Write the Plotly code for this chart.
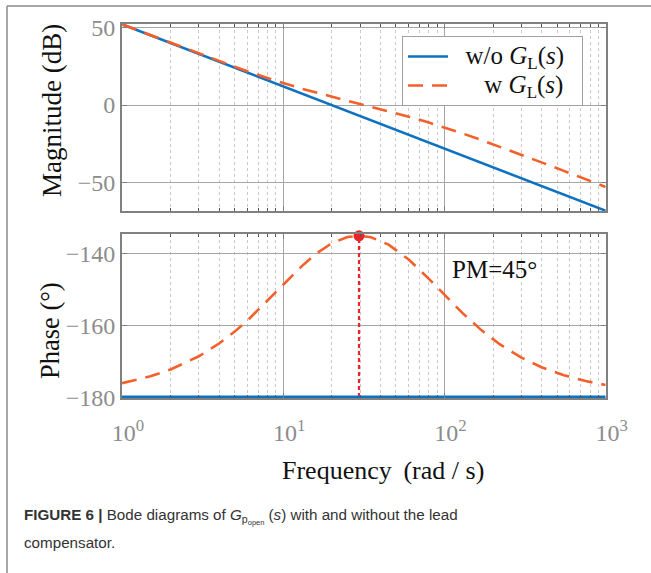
import plotly.graph_objects as go

# ---------------- data ----------------
freq_wo = [1, 1000]
mag_wo = [52.0, -68.0]
phase_wo = [-180.0, -180.0]

freq = [1, 1.5, 2, 3, 4, 5, 6, 8, 10, 13, 16, 20, 25, 29.5, 35, 45, 60, 80,
        100, 130, 170, 220, 300, 400, 550, 750, 1000]
mag_w = [52.03, 45.02, 40.07, 33.17, 28.35, 24.69, 21.78, 17.38, 14.15, 10.60,
         7.97, 5.30, 2.74, 0.88, -1.05, -3.94, -7.45, -11.23, -14.39, -18.34,
         -22.58, -26.80, -31.99, -36.89, -42.36, -47.72, -52.70]
phase_w = [-176.12, -174.20, -172.30, -168.60, -165.06, -161.73, -158.63,
           -153.16, -148.65, -143.53, -139.99, -137.07, -135.36, -134.97,
           -135.40, -137.46, -141.61, -147.00, -151.51, -156.65, -161.38,
           -165.24, -168.98, -171.66, -173.89, -175.51, -176.63]

pm_freq = [29.5]
pm_phase = [-135.0]
pm_line_freq = [29.5, 29.5]
pm_line_phase = [-180.0, -135.0]

x_tickvals = [1, 10, 100, 1000]
x_ticktext = ["10<sup>0</sup>", "10<sup>1</sup>", "10<sup>2</sup>", "10<sup>3</sup>"]
mag_ticks = [-50, 0, 50]
phase_ticks = [-180, -160, -140]

# ---------------- styling ----------------
W, H = 651, 573
BLUE = "#0E72C0"
ORANGE = "#F4602A"
RED = "#E8262A"
FRAME = "#808080"
GRID = "#A6A6A6"
MINOR = "#C8C8C8"
TICKC = "#8C8C8C"
SERIF = "Liberation Serif, Times New Roman, serif"
SANS = "Liberation Sans, Arial, sans-serif"

def px(x):
    return x / W

def py(y):
    return 1 - y / H

minor_vals = [m * 10 ** d for d in range(3) for m in range(2, 10)]
SUB_L = "<span style='font-size:17px;baseline-shift:-5px'>L</span>"

def big(s):
    return "<span style='font-size:25px'>" + s + "</span>"

fig = go.Figure()

fig.add_trace(go.Scatter(x=freq_wo, y=mag_wo, mode="lines",
                         line=dict(color=BLUE, width=2.6),
                         name=big("\u2002w/o <i>G</i>") + SUB_L + big("(<i>s</i>)\u2002"),
                         xaxis="x", yaxis="y"))
fig.add_trace(go.Scatter(x=freq, y=mag_w, mode="lines",
                         line=dict(color=ORANGE, width=2.6, dash="15px,9px"),
                         name=big("\u2002\u2002 w <i>G</i>") + SUB_L + big("(<i>s</i>)"),
                         xaxis="x", yaxis="y"))
fig.add_trace(go.Scatter(x=pm_line_freq, y=pm_line_phase, mode="lines",
                         line=dict(color=RED, width=2.2, dash="4px,3px"),
                         showlegend=False, xaxis="x2", yaxis="y2"))
fig.add_trace(go.Scatter(x=freq, y=phase_w, mode="lines",
                         line=dict(color=ORANGE, width=2.6, dash="15px,9px"),
                         showlegend=False, xaxis="x2", yaxis="y2"))
fig.add_trace(go.Scatter(x=freq_wo, y=phase_wo, mode="lines",
                         line=dict(color=BLUE, width=3.2),
                         showlegend=False, xaxis="x2", yaxis="y2"))
fig.add_trace(go.Scatter(x=pm_freq, y=pm_phase, mode="markers",
                         marker=dict(color=RED, size=11),
                         showlegend=False, cliponaxis=False,
                         xaxis="x2", yaxis="y2"))

xdom = [px(122), px(605.7)]

common_x = dict(
    type="log", range=[0, 3], domain=xdom, automargin=False,
    showline=True, mirror="ticks", linecolor=FRAME, linewidth=2,
    showgrid=True, gridcolor=GRID, gridwidth=1,
    ticks="inside", ticklen=5, tickcolor=FRAME,
    tickvals=x_tickvals, zeroline=False,
    minor=dict(tickvals=minor_vals, showgrid=True, gridcolor=MINOR,
               griddash="dot", gridwidth=1, ticks="inside", ticklen=3,
               tickcolor="#555555"),
)
common_y = dict(
    showline=True, mirror="ticks", linecolor=FRAME, linewidth=2,
    showgrid=True, gridcolor=GRID, gridwidth=1, automargin=False,
    ticks="inside", ticklen=5, tickcolor=FRAME, zeroline=False,
    tickfont=dict(family=SERIF, size=24, color=TICKC),
)

fig.update_layout(
    width=W, height=H, autosize=False,
    margin=dict(l=0, r=0, t=0, b=0, pad=0),
    paper_bgcolor="white", plot_bgcolor="white",
    xaxis=dict(**common_x, anchor="y", showticklabels=False),
    yaxis=dict(**common_y, domain=[py(211), py(24)], range=[-68.2, 52.2],
               tickvals=mag_ticks, ticktext=["\u221250", "0", "50"]),
    xaxis2=dict(**common_x, anchor="y2", ticktext=x_ticktext,
                tickfont=dict(family=SERIF, size=24, color=TICKC),
                ticklabelstandoff=12, ticklabelshift=6),
    yaxis2=dict(**common_y, domain=[py(398), py(234)], range=[-180.25, -134.5],
                tickvals=phase_ticks,
                ticktext=["\u2212180", "\u2212160", "\u2212140"]),
    legend=dict(x=px(402), y=py(36), xanchor="left", yanchor="top",
                bgcolor="white", bordercolor="#A0A0A0", borderwidth=1,
                font=dict(family=SERIF, size=20, color="#111111"),
                tracegroupgap=0, itemwidth=40),
    showlegend=True,
)

annotations = [
    dict(text="Magnitude (dB)", x=px(52), y=py(111), textangle=-90,
         font=dict(family=SERIF, size=27, color="#111111")),
    dict(text="Phase (\u00b0)", x=px(50), y=py(331), textangle=-90,
         font=dict(family=SERIF, size=26.5, color="#111111")),
    dict(text="Frequency\u2009 (rad / s)", x=px(383), y=py(470),
         font=dict(family=SERIF, size=26, color="#111111")),
    dict(text="PM=45\u00b0", x=px(450), y=py(270), xanchor="left",
         font=dict(family=SERIF, size=25, color="#111111")),
    dict(text="<b>FIGURE 6 |</b> Bode diagrams of <i>G</i><sub>p<sub>open</sub></sub> (<i>s</i>) with and without the lead",
         x=px(22), y=py(516), xanchor="left",
         font=dict(family=SANS, size=15.2, color="#333333")),
    dict(text="compensator.", x=px(22), y=py(542), xanchor="left",
         font=dict(family=SANS, size=15.2, color="#333333")),
]
for a in annotations:
    a.update(xref="paper", yref="paper", showarrow=False)
    a.setdefault("xanchor", "center")
    a.setdefault("yanchor", "middle")
fig.update_layout(annotations=annotations)

fig.add_shape(type="line", xref="paper", yref="paper",
              x0=px(7), y0=py(6), x1=1, y1=py(6),
              line=dict(color="#8a8a8a", width=1.5))
fig.add_shape(type="line", xref="paper", yref="paper",
              x0=px(7), y0=py(6), x1=px(7), y1=0,
              line=dict(color="#8a8a8a", width=1.5))

fig.write_html("out.html")
